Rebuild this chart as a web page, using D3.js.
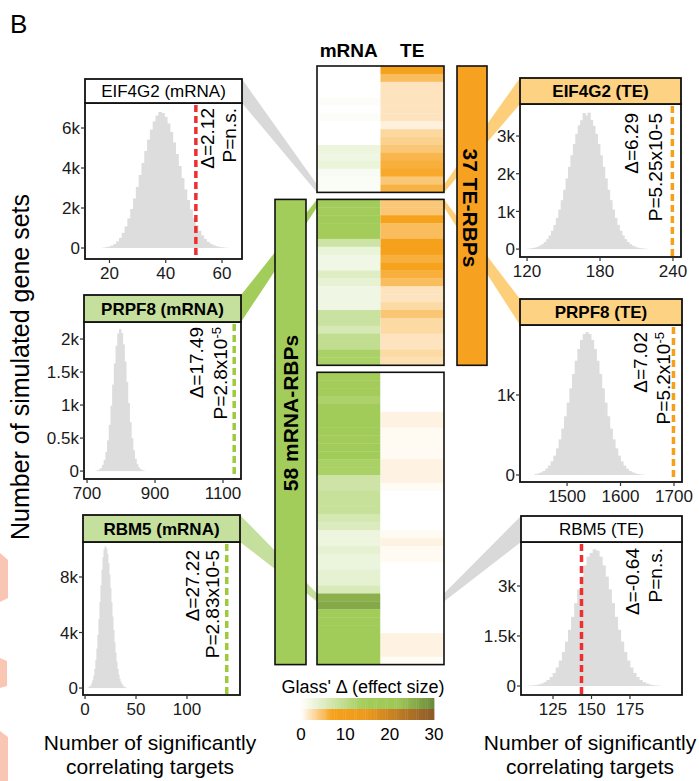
<!DOCTYPE html>
<html>
<head>
<meta charset="utf-8">
<script src="https://cdn.jsdelivr.net/npm/d3@7"></script>
<style>
    body { margin: 0; background: #fff; }
    text { font-family: "Liberation Sans", Arial, Helvetica, sans-serif; }
</style>
</head>
<body>
<div id="chart"></div>
<script>
// Glass' delta heatmap for TE-only / shared / mRNA-only RBPs
const blockSizes = [16, 21, 37];
const teOnlyMrna = [0, 0, 0, 0, 0.5, 0, 0.5, 0, 0, 0, 2.8, 2.4, 3.2, 1, 0.8, 0.8];
const teOnlyTe = [7.5, 5, 2, 2, 2, 2, 2, 1, 3, 3.5, 4.2, 5.5, 6, 6.5, 4.2, 5.8];
const bothMrna = [16, 15, 16, 15, 15, 7.5, 3.2, 2.3, 2.3, 5, 3.6, 2.4, 2.4, 2.4, 8, 8, 6.3, 9.5, 9.5, 13, 13];
const bothTe = [4.2, 4.2, 7, 5, 5, 8, 8, 6, 7, 6, 5, 2, 2, 2.8, 4.3, 2.8, 2.8, 2, 2, 2.8, 2.3];
const mrnaOnlyMrna = [15, 15, 15, 12.5, 16, 16, 16, 16, 15, 16, 16, 13, 13, 7.5, 7.5, 8.5, 8.5, 8.5, 6.5, 5.5,
    2.8, 2.8, 4, 3, 3, 4, 4, 6, 25, 26, 16, 16, 16, 16, 16, 16, 16];
const mrnaOnlyTe = [0, 0, 0, 0, 0, 0.9, 0.9, 0.4, 0.4, 0.4, 0.4, 0.9, 0.9, 0.9, 0.3, 0, 0, 0, 0, 0,
    0.4, 0.9, 0.4, 0.4, 0, 0, 0, 0, 0, 0, 0, 0, 0, 0.9, 0.9, 0.9, 0.3];
const columns = ["mRNA", "TE"];
const legendTicks = [0, 10, 20, 30];

// simulated gene set histograms (counts per bin)
const eif4g2MrnaCounts = [20, 40, 70, 120, 200, 330, 510, 760, 1080, 1480, 1950, 2480, 3050, 3650, 4250, 4850, 5420,
    5920, 6330, 6620, 6800, 6750, 6560, 6230, 5800, 5280, 4700, 4100, 3500, 2930, 2400, 1920, 1500, 1150, 860, 630,
    450, 310, 210, 140, 90, 55, 35, 20, 10];
const prpf8MrnaCounts = [5, 11, 24, 48, 95, 170, 290, 465, 700, 990, 1310, 1630, 1900, 2085, 2150, 2090, 1920, 1660,
    1350, 1030, 740, 500, 315, 185, 105, 55, 27, 13, 6];
const rbm5MrnaCounts = [30, 61, 113, 200, 350, 575, 905, 1380, 2020, 2840, 3830, 4960, 6190, 7410, 8520, 9420, 10000,
    10200, 10060, 9650, 9000, 8170, 7210, 6190, 5160, 4190, 3310, 2540, 1900, 1380, 975, 670, 450, 290, 185, 110, 65, 40];
const eif4g2TeCounts = [10, 16, 26, 40, 61, 91, 131, 188, 264, 362, 487, 642, 828, 1048, 1298, 1574, 1875, 2184, 2490,
    2792, 3058, 3284, 3420, 3610, 3540, 3620, 3430, 3270, 3058, 2792, 2490, 2184, 1875, 1574, 1298, 1048, 828, 642, 487,
    362, 264, 188, 131, 91, 61, 40, 26, 16, 10, 6];
const prpf8TeCounts = [12, 20, 33, 50, 79, 118, 171, 242, 333, 445, 580, 734, 904, 1083, 1262, 1429, 1575, 1688, 1761,
    1785, 1761, 1688, 1575, 1429, 1262, 1083, 904, 734, 580, 445, 333, 242, 171, 118, 79, 50, 33, 20, 12, 7, 4];
const rbm5TeCounts = [9, 16, 27, 45, 74, 117, 180, 270, 392, 555, 764, 1022, 1331, 1685, 2075, 2487, 2898, 3283, 3618,
    3878, 3990, 4100, 4060, 3878, 3618, 3283, 2898, 2487, 2075, 1685, 1331, 1022, 764, 555, 392, 270, 180, 117, 74, 45,
    27, 16, 9];

const panelTitles = ["EIF4G2 (mRNA)", "PRPF8 (mRNA)", "RBM5 (mRNA)", "EIF4G2 (TE)", "PRPF8 (TE)", "RBM5 (TE)"];
const binStarts = [17.5, 725, 2.5, 120, 1440, 109];
const binWidths = [1, 5, 1, 2, 5, 2];
const observed = [50.7, 1133, 139, 239.5, 1699, 143.5];
const deltas = ["Δ=2.12", "Δ=17.49", "Δ=27.22", "Δ=6.29", "Δ=7.02", "Δ=-0.64"];
const pValues = ["P=n.s.", "P=2.8x10^-5", "P=2.83x10-5", "P=5.25x10-5", "P=5.2x10^-5", "P=n.s."];
const xTickValues = [[20, 40, 60], [700, 900, 1100], [0, 50, 100], [120, 180, 240], [1500, 1600, 1700], [125, 150, 175]];
const yTickValues = [[0, 2000, 4000, 6000], [0, 500, 1000, 1500, 2000], [0, 4000, 8000], [0, 1000, 2000, 3000], [0, 1000], [0, 1500, 3000]];
const targetBlock = [0, 1, 2, 0, 1, 2];
const targetRow = [15, 0, 28, 15, 0, 28];
const histCounts = [eif4g2MrnaCounts, prpf8MrnaCounts, rbm5MrnaCounts, eif4g2TeCounts, prpf8TeCounts, rbm5TeCounts];

// colours
const greenScale = d3.scaleLinear().domain([0, 14, 22, 30])
    .range(["#ffffff", "#a3cd5a", "#9fc757", "#6b8a3a"]).clamp(true);
const orangeScale = d3.scaleLinear().domain([0, 7, 15, 30])
    .range(["#ffffff", "#f7a21c", "#ec991d", "#8b5a2a"]).clamp(true);
const GREEN = "#a3cd5a", ORANGE = "#f6a11f", LIGHT_GREEN = "#c5e09d", LIGHT_ORANGE = "#fdd282", GREY = "#d9d9d9";

// layout of each panel
const panelLayout = [
    { l: 85, st: 79, sb: 103, r: 242, b: 259, xd: [11.3, 67.1], yd: [-550, 7250], ax: 207, ap: 229, at: 108 },
    { l: 84, st: 295, sb: 322, r: 241, b: 479, xd: [691, 1153], yd: [-120, 2258], ax: 196, ap: 220, at: 327 },
    { l: 83, st: 515, sb: 542, r: 240, b: 695, xd: [-2, 152], yd: [-500, 10520], ax: 192, ap: 212, at: 550 },
    { l: 520, st: 78, sb: 104, r: 681, b: 257, xd: [114.2, 246.6], yd: [-210, 3850], ax: 631, ap: 655, at: 113 },
    { l: 520, st: 299, sb: 325, r: 682, b: 482, xd: [1412, 1715], yd: [-87.5, 1875], ax: 640, ap: 663, at: 332 },
    { l: 521, st: 516, sb: 542, r: 682, b: 695, xd: [104.2, 208.8], yd: [-270, 4320], ax: 632, ap: 655, at: 548 }
];
const stripFill = ["#ffffff", LIGHT_GREEN, LIGHT_GREEN, LIGHT_ORANGE, LIGHT_ORANGE, "#ffffff"];
const wedgeFill = [GREY, GREEN, LIGHT_GREEN, "#fdcf7a", "#fdcf7a", GREY];
const lineColor = ["#ee2f2f", "#9dcb3c", "#9dcb3c", "#f6a01a", "#f6a01a", "#ee2f2f"];

const svg = d3.select("#chart").append("svg")
    .attr("width", 699)
    .attr("height", 781);

// heatmap geometry
const hmTop = 66, rowH = 7.9, blockGap = 7;
const xCol = d3.scaleBand().domain(columns).range([317, 444]);
const blockTops = [];
let acc = hmTop;
blockSizes.forEach(n => { blockTops.push(acc); acc += n * rowH + blockGap; });
const rowY = (b, r) => blockTops[b] + r * rowH;

// left-edge remnants of neighbouring panel
const pink = [[[0, 553], [8, 560], [8, 598], [0, 602]], [[0, 658], [7, 661], [7, 686], [0, 688]], [[0, 731], [8, 737], [8, 781], [0, 781]]];
svg.selectAll(".pink").data(pink).enter().append("polygon")
    .attr("points", d => d.map(p => p.join(",")).join(" "))
    .attr("fill", "#f9c6b3");

// callout wedges (behind everything)
panelLayout.forEach((p, i) => {
    const left = i < 3;
    const sx = left ? p.r : p.l;
    const hx = left ? xCol.range()[0] : xCol.range()[1];
    const y0 = rowY(targetBlock[i], targetRow[i]);
    svg.append("polygon")
        .attr("points", [[sx, p.st], [hx, y0], [hx, y0 + rowH], [sx, p.sb]].map(q => q.join(",")).join(" "))
        .attr("fill", wedgeFill[i]);
});

// side bars
const barW = 31;
svg.append("rect")
    .attr("x", 275).attr("y", blockTops[1])
    .attr("width", barW).attr("height", rowY(2, blockSizes[2]) - blockTops[1])
    .attr("fill", GREEN).attr("stroke", "#111").attr("stroke-width", 1.6);
svg.append("text")
    .attr("transform", `translate(290.5,413) rotate(-90)`)
    .attr("text-anchor", "middle").attr("dy", "0.36em")
    .attr("font-size", 21).attr("font-weight", "bold")
    .text("58 mRNA-RBPs");
svg.append("rect")
    .attr("x", 457).attr("y", blockTops[0])
    .attr("width", barW - 1).attr("height", rowY(1, blockSizes[1]) - blockTops[0])
    .attr("fill", ORANGE).attr("stroke", "#111").attr("stroke-width", 1.6);
svg.append("text")
    .attr("transform", `translate(471,208) rotate(90)`)
    .attr("text-anchor", "middle").attr("dy", "0.36em")
    .attr("font-size", 21).attr("font-weight", "bold")
    .text("37 TE-RBPs");

// heatmap cells
const blockData = [[teOnlyMrna, teOnlyTe], [bothMrna, bothTe], [mrnaOnlyMrna, mrnaOnlyTe]];
blockData.forEach(([mr, te], b) => {
    const cells = [];
    mr.forEach((v, r) => cells.push({ col: "mRNA", row: r, value: v }));
    te.forEach((v, r) => cells.push({ col: "TE", row: r, value: v }));
    svg.append("g").selectAll("rect")
        .data(cells)
        .enter()
        .append("rect")
        .attr("x", d => xCol(d.col))
        .attr("y", d => rowY(b, d.row))
        .attr("width", xCol.bandwidth())
        .attr("height", rowH + 0.3)
        .attr("fill", d => d.col === "mRNA" ? greenScale(d.value) : orangeScale(d.value));
    svg.append("rect")
        .attr("x", xCol.range()[0]).attr("y", blockTops[b])
        .attr("width", xCol.range()[1] - xCol.range()[0])
        .attr("height", blockSizes[b] * rowH)
        .attr("fill", "none").attr("stroke", "#111").attr("stroke-width", 1.6);
});

svg.selectAll(".col-label")
    .data(columns)
    .enter()
    .append("text")
    .attr("x", d => xCol(d) + xCol.bandwidth() / 2)
    .attr("y", 57)
    .attr("text-anchor", "middle")
    .attr("font-size", 19).attr("font-weight", "bold")
    .text(d => d);

// histogram panels
const kFmt = d => d === 0 ? "0" : (d / 1000) + "k";
panelLayout.forEach((p, i) => {
    const g = svg.append("g");
    const x = d3.scaleLinear().domain(p.xd).range([p.l, p.r]);
    const y = d3.scaleLinear().domain(p.yd).range([p.b, p.sb]);
    const clipId = "clip" + i;
    g.append("clipPath").attr("id", clipId).append("rect")
        .attr("x", p.l).attr("y", p.sb).attr("width", p.r - p.l).attr("height", p.b - p.sb);

    g.append("rect")
        .attr("x", p.l).attr("y", p.sb).attr("width", p.r - p.l).attr("height", p.b - p.sb)
        .attr("fill", "#fff");

    const bins = histCounts[i].map((c, k) => ({ x0: binStarts[i] + k * binWidths[i], x1: binStarts[i] + (k + 1) * binWidths[i], c }));
    g.append("g").attr("clip-path", `url(#${clipId})`)
        .selectAll("rect")
        .data(bins)
        .enter()
        .append("rect")
        .attr("x", d => x(d.x0) - 0.4)
        .attr("width", d => x(d.x1) - x(d.x0) + 0.8)
        .attr("y", d => y(d.c))
        .attr("height", d => y(0) - y(d.c))
        .attr("fill", "#dddddd");

    g.append("line")
        .attr("x1", x(observed[i])).attr("x2", x(observed[i]))
        .attr("y1", p.sb + 2).attr("y2", p.b)
        .attr("stroke", lineColor[i]).attr("stroke-width", 3.5)
        .attr("stroke-dasharray", "7,4");

    // annotation
    g.append("text")
        .attr("transform", `translate(${p.ax},${p.at}) rotate(-90)`)
        .attr("text-anchor", "end").attr("dy", "0.36em")
        .attr("font-size", 19)
        .text(deltas[i]);
    const pt = g.append("text")
        .attr("transform", `translate(${p.ap},${p.at}) rotate(-90)`)
        .attr("text-anchor", "end").attr("dy", "0.36em")
        .attr("font-size", 19);
    const parts = pValues[i].split("^");
    pt.append("tspan").text(parts[0]);
    if (parts[1]) pt.append("tspan").attr("dy", "-0.45em").attr("font-size", 13).text(parts[1]);

    // frame
    g.append("rect")
        .attr("x", p.l).attr("y", p.sb).attr("width", p.r - p.l).attr("height", p.b - p.sb)
        .attr("fill", "none").attr("stroke", "#111").attr("stroke-width", 1.8);
    g.append("rect")
        .attr("x", p.l).attr("y", p.st).attr("width", p.r - p.l).attr("height", p.sb - p.st)
        .attr("fill", stripFill[i]).attr("stroke", "#111").attr("stroke-width", 1.8);
    g.append("text")
        .attr("x", (p.l + p.r) / 2).attr("y", (p.st + p.sb) / 2)
        .attr("dy", "0.36em").attr("text-anchor", "middle")
        .attr("font-size", 17)
        .attr("font-weight", stripFill[i] === "#ffffff" ? "normal" : "bold")
        .text(panelTitles[i]);

    // ticks
    yTickValues[i].forEach(t => {
        g.append("line").attr("x1", p.l - 4).attr("x2", p.l).attr("y1", y(t)).attr("y2", y(t))
            .attr("stroke", "#333").attr("stroke-width", 1.2);
        g.append("text").attr("x", p.l - 5).attr("y", y(t)).attr("dy", "0.36em")
            .attr("text-anchor", "end").attr("font-size", 17).attr("fill", "#1a1a1a")
            .text(kFmt(t));
    });
    xTickValues[i].forEach(t => {
        g.append("line").attr("x1", x(t)).attr("x2", x(t)).attr("y1", p.b).attr("y2", p.b + 4)
            .attr("stroke", "#333").attr("stroke-width", 1.2);
        g.append("text").attr("x", x(t)).attr("y", p.b + 20)
            .attr("text-anchor", "middle").attr("font-size", 17).attr("fill", "#1a1a1a")
            .text(t);
    });
});

// axis titles
svg.append("text")
    .attr("transform", "translate(29,367) rotate(-90)")
    .attr("text-anchor", "middle").attr("font-size", 25)
    .text("Number of simulated gene sets");
[150, 590].forEach(cx => {
    svg.append("text").attr("x", cx).attr("y", 750).attr("text-anchor", "middle").attr("font-size", 21)
        .text("Number of significantly");
    svg.append("text").attr("x", cx).attr("y", 774).attr("text-anchor", "middle").attr("font-size", 21)
        .text("correlating targets");
});

svg.append("text").attr("x", 10).attr("y", 33).attr("font-size", 26).text("B");

// colour legend
const lx = d3.scaleLinear().domain([0, 30]).range([301, 434]);
const steps = d3.range(0, 30, 0.5);
svg.append("text").attr("x", 363).attr("y", 693).attr("text-anchor", "middle").attr("font-size", 18)
    .text("Glass' Δ (effect size)");
svg.append("g").selectAll("rect").data(steps).enter().append("rect")
    .attr("x", d => lx(d)).attr("y", 698).attr("width", lx(0.5) - lx(0) + 0.4).attr("height", 11)
    .attr("fill", d => greenScale(d + 0.25));
svg.append("g").selectAll("rect").data(steps).enter().append("rect")
    .attr("x", d => lx(d)).attr("y", 709).attr("width", lx(0.5) - lx(0) + 0.4).attr("height", 11)
    .attr("fill", d => orangeScale(d + 0.25));
svg.selectAll(".leg-tick").data(legendTicks).enter().append("text")
    .attr("x", d => lx(d)).attr("y", 740).attr("text-anchor", "middle").attr("font-size", 17)
    .text(d => d);
</script>
</body>
</html>
